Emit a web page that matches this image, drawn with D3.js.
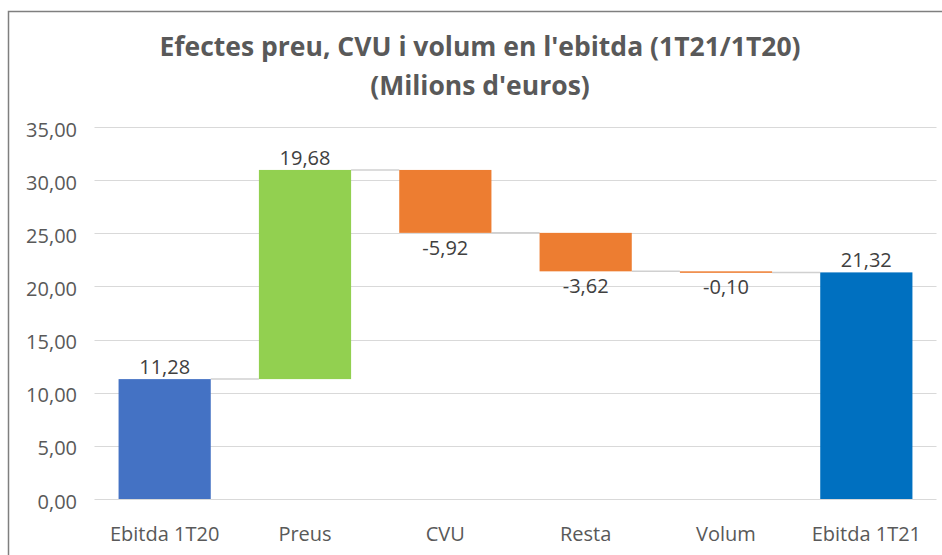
<!DOCTYPE html>
<html><head><meta charset="utf-8">
<script src="https://cdn.jsdelivr.net/npm/d3@7"></script>
<style>body{margin:0;background:#fff}svg{display:block}</style>
</head><body>
<svg id="c" width="942" height="555"></svg>
<script>
const categories = ["Ebitda 1T20","Preus","CVU","Resta","Volum","Ebitda 1T21"];
const values = [11.28, 19.68, -5.92, -3.62, -0.10, 21.32];
const kinds = ["total","delta","delta","delta","delta","total"];
const colors = ["#4472C4","#92D050","#ED7D31","#ED7D31","#ED7D31","#0070C0"];
const yTicks = [0,5,10,15,20,25,30,35];
const titleLines = ["Efectes preu, CVU i volum en l'ebitda (1T21/1T20)","(Milions d'euros)"];

const fmt = v => d3.format(".2f")(v).replace(".", ",").replace("−","-");
const svg = d3.select("#c");
const font = "'Open Sans', 'Noto Sans', sans-serif";

// outer chart border
svg.append("rect").attr("x",8.5).attr("y",11.5).attr("width",960).attr("height",600)
  .attr("fill","none").attr("stroke","#7f7f7f").attr("stroke-width",1.5);

const x = d3.scaleBand().domain(categories).range([94.5,936.5]).paddingInner(0.343).paddingOuter(0.1715);
const y = d3.scaleLinear().domain([0,35]).range([499,127]);

// compute waterfall segments
let run = 0;
const bars = categories.map((c,i)=>{
  let start, end;
  if (kinds[i]==="total"){ start=0; end=values[i]; run=values[i]; }
  else { start=run; end=run+values[i]; run=end; }
  return {c, v:values[i], start, end, color:colors[i], kind:kinds[i]};
});

// gridlines
svg.append("g").selectAll("line").data(yTicks).join("line")
  .attr("x1",94.5).attr("x2",936.5)
  .attr("y1",d=>Math.round(y(d))+0.5).attr("y2",d=>Math.round(y(d))+0.5)
  .attr("stroke","#d9d9d9").attr("stroke-width",1);

// y tick labels
svg.append("g").selectAll("text").data(yTicks).join("text")
  .attr("x",77).attr("y",d=>y(d)+9.5).attr("text-anchor","end")
  .attr("font-family",font).attr("font-size",20).attr("fill","#595959")
  .text(d=>fmt(d));

// connectors
const conn = bars.slice(0,-1).map((b,i)=>({x1:x(b.c)+x.bandwidth(), x2:x(bars[i+1].c), v:b.end}));
svg.append("g").selectAll("line").data(conn).join("line")
  .attr("x1",d=>d.x1).attr("x2",d=>d.x2)
  .attr("y1",d=>y(d.v)).attr("y2",d=>y(d.v))
  .attr("stroke","#d0d0d0").attr("stroke-width",1.5);

// bars
svg.append("g").selectAll("rect").data(bars).join("rect")
  .attr("x",d=>x(d.c)).attr("width",x.bandwidth())
  .attr("y",d=>y(Math.max(d.start,d.end)))
  .attr("height",d=>Math.max(1.5, Math.abs(y(d.start)-y(d.end))))
  .attr("fill",d=>d.color);

// data labels
svg.append("g").selectAll("text").data(bars).join("text")
  .attr("x",d=>x(d.c)+x.bandwidth()/2)
  .attr("y",d=> d.v>=0 ? y(Math.max(d.start,d.end))-5 : y(Math.min(d.start,d.end))+22)
  .attr("text-anchor","middle")
  .attr("font-family",font).attr("font-size",20).attr("fill","#404040")
  .text(d=>fmt(d.v));

// category labels
svg.append("g").selectAll("text").data(categories).join("text")
  .attr("x",d=>x(d)+x.bandwidth()/2).attr("y",541)
  .attr("text-anchor","middle")
  .attr("font-family",font).attr("font-size",20).attr("fill","#595959")
  .text(d=>d);

// title
svg.append("g").selectAll("text").data(titleLines).join("text")
  .attr("x",480).attr("y",(d,i)=>56+i*39)
  .attr("text-anchor","middle")
  .attr("font-family",font).attr("font-size",26.5).attr("font-weight","bold").attr("fill","#595959")
  .text(d=>d);
</script>
</body></html>
